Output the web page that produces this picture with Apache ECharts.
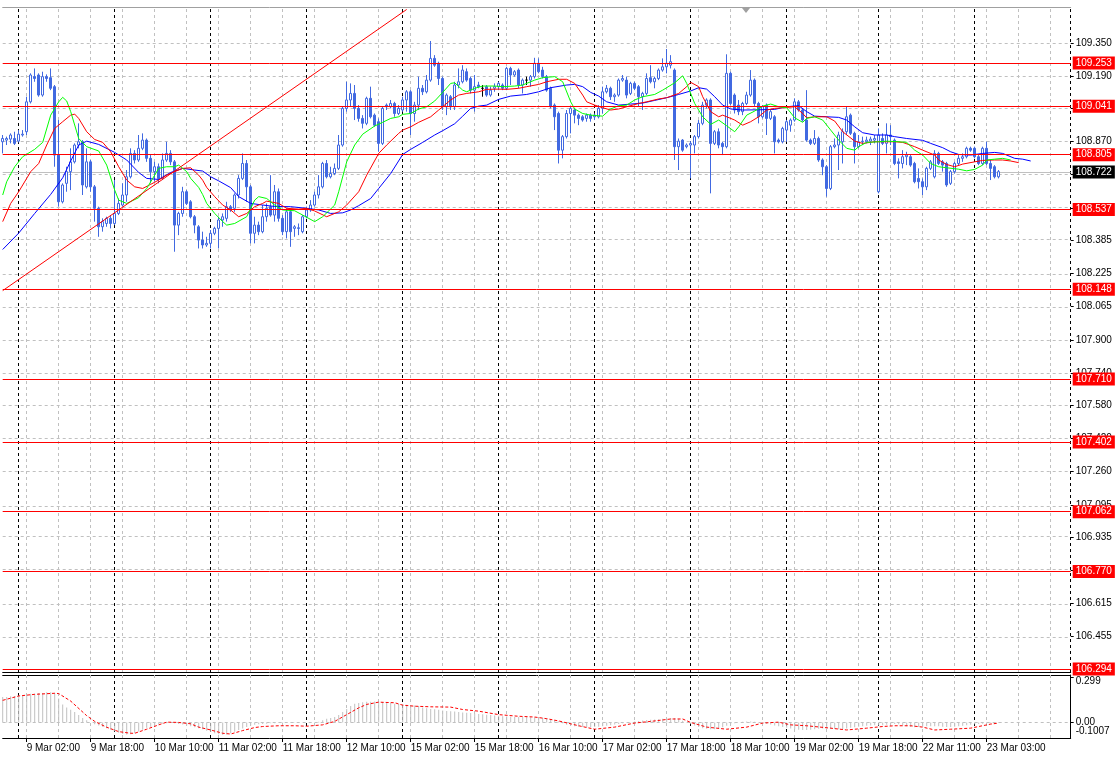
<!DOCTYPE html>
<html><head><meta charset="utf-8">
<script src="https://cdn.jsdelivr.net/npm/echarts@6/dist/echarts.min.js"></script>
<style>html,body{margin:0;padding:0;background:#fff}#c{width:1120px;height:758px}</style>
</head><body><div id="c"></div>
<script>
// trading sessions: [day, first hour, number of hourly bars]
const sessions = [['8 Mar',20,4],['9 Mar',0,24],['10 Mar',0,24],['11 Mar',0,24],['12 Mar',0,24],
  ['15 Mar',0,24],['16 Mar',0,24],['17 Mar',0,24],['18 Mar',0,24],['19 Mar',0,23],
  ['22 Mar',0,24],['23 Mar',0,24],['24 Mar',0,1]];

// hourly bars: [open, high, low, close]
const bars = [
[108.868,108.901,108.811,108.884],[108.876,108.893,108.852,108.884],[108.881,108.909,108.860,108.901],[108.884,108.917,108.852,108.860],
[108.871,108.925,108.865,108.905],[108.901,108.925,108.893,108.905],[108.917,109.088,108.901,109.063],[109.063,109.202,109.055,109.194],
[109.186,109.226,109.161,109.177],[109.194,109.202,109.088,109.096],[109.096,109.210,109.088,109.186],[109.186,109.197,109.161,109.177],
[109.181,109.226,109.120,109.129],[109.137,109.145,108.746,108.803],[108.803,108.974,108.551,108.575],[108.575,108.665,108.567,108.657],
[108.665,108.746,108.624,108.722],[108.722,108.836,108.632,108.770],[108.770,108.860,108.762,108.852],[108.852,108.958,108.836,108.868],
[108.868,108.876,108.608,108.657],[108.648,108.836,108.640,108.770],[108.770,108.779,108.624,108.648],[108.648,108.657,108.478,108.543],
[108.543,108.551,108.404,108.453],[108.453,108.494,108.429,108.478],[108.469,108.502,108.453,108.494],[108.494,108.510,108.445,108.469],
[108.469,108.681,108.461,108.518],[108.518,108.591,108.510,108.567],[108.559,108.665,108.551,108.608],[108.608,108.730,108.575,108.697],
[108.697,108.836,108.689,108.811],[108.811,108.827,108.762,108.779],[108.779,108.901,108.770,108.836],[108.836,108.909,108.827,108.876],
[108.876,108.884,108.770,108.787],[108.787,108.803,108.665,108.722],[108.722,108.770,108.673,108.746],[108.746,108.762,108.665,108.689],
[108.689,108.811,108.681,108.779],[108.779,108.868,108.770,108.811],[108.811,108.827,108.754,108.770],[108.770,108.779,108.331,108.461],
[108.461,108.526,108.412,108.518],[108.518,108.648,108.502,108.624],[108.624,108.632,108.559,108.567],[108.575,108.583,108.494,108.502],
[108.502,108.510,108.421,108.461],[108.453,108.461,108.347,108.388],[108.388,108.429,108.347,108.364],[108.364,108.404,108.355,108.372],
[108.372,108.437,108.347,108.421],[108.421,108.453,108.412,108.445],[108.445,108.502,108.347,108.486],[108.486,108.518,108.453,108.502],
[108.494,108.575,108.478,108.551],[108.551,108.559,108.526,108.535],[108.543,108.616,108.526,108.608],[108.608,108.705,108.591,108.689],
[108.689,108.811,108.681,108.762],[108.762,108.779,108.575,108.648],[108.648,108.657,108.372,108.421],[108.421,108.502,108.372,108.461],
[108.461,108.478,108.412,108.429],[108.429,108.559,108.421,108.502],[108.502,108.567,108.478,108.543],[108.551,108.705,108.502,108.510],
[108.510,108.657,108.478,108.624],[108.624,108.640,108.478,108.494],[108.494,108.510,108.412,108.429],[108.429,108.543,108.396,108.526],
[108.526,108.535,108.355,108.429],[108.445,108.461,108.404,108.453],[108.448,108.469,108.412,108.445],[108.429,108.510,108.421,108.502],
[108.502,108.551,108.494,108.535],[108.535,108.583,108.526,108.559],[108.559,108.624,108.551,108.608],[108.608,108.705,108.591,108.648],
[108.648,108.770,108.640,108.762],[108.762,108.779,108.689,108.697],[108.697,108.746,108.689,108.713],[108.713,108.762,108.705,108.738],
[108.738,108.901,108.730,108.852],[108.852,109.039,108.844,109.031],[109.031,109.161,109.015,109.072],[109.072,109.153,109.039,109.104],
[109.104,109.145,108.974,109.031],[109.031,109.047,108.966,108.982],[108.982,108.998,108.933,108.958],[108.958,109.088,108.949,109.080],
[109.080,109.137,108.982,108.990],[108.998,109.006,108.941,108.949],[108.966,108.982,108.819,108.860],[108.860,109.039,108.852,109.031],
[109.047,109.055,109.023,109.039],[109.039,109.072,109.031,109.055],[109.055,109.063,108.990,109.006],[109.006,109.047,108.998,109.031],
[109.023,109.088,109.015,109.072],[109.072,109.120,109.015,109.112],[109.112,109.120,108.901,109.006],[109.006,109.063,108.966,109.047],
[109.047,109.186,109.023,109.129],[109.129,109.145,109.096,109.112],[109.112,109.194,109.104,109.169],[109.169,109.360,109.161,109.275],
[109.275,109.291,109.234,109.242],[109.251,109.259,109.145,109.177],[109.177,109.186,109.023,109.039],[109.039,109.104,108.998,109.096],
[109.088,109.096,109.023,109.039],[109.039,109.161,109.023,109.145],[109.145,109.226,109.129,109.161],[109.161,109.242,109.153,109.218],
[109.210,109.226,109.161,109.169],[109.177,109.186,109.104,109.120],[109.120,109.194,109.015,109.137],[109.145,109.161,109.129,109.137],
[109.129,109.145,109.088,109.129],[109.137,109.145,109.088,109.096],[109.096,109.137,109.088,109.120],[109.129,109.153,109.112,109.137],
[109.137,109.161,109.120,109.153],[109.145,109.153,109.120,109.129],[109.129,109.234,109.120,109.226],[109.226,109.234,109.145,109.194],
[109.194,109.218,109.186,109.210],[109.218,109.226,109.129,109.145],[109.145,109.177,109.104,109.169],[109.169,109.186,109.145,109.169],
[109.169,109.194,109.137,109.186],[109.186,109.278,109.177,109.251],[109.251,109.275,109.202,109.210],[109.218,109.234,109.177,109.186],
[109.186,109.194,109.112,109.120],[109.129,109.137,109.031,109.039],[109.047,109.055,108.925,108.990],[109.006,109.015,108.762,108.827],
[108.827,108.901,108.787,108.893],[108.893,109.023,108.884,109.006],[109.006,109.039,108.909,109.031],[109.023,109.031,108.958,108.998],
[108.998,109.006,108.949,108.982],[108.990,108.998,108.966,108.974],[108.982,109.006,108.966,108.998],[108.998,109.006,108.966,108.982],
[108.990,109.006,108.974,108.998],[108.990,109.047,108.982,109.031],[109.031,109.137,109.006,109.112],[109.112,109.145,109.104,109.129],
[109.129,109.137,109.072,109.088],[109.088,109.104,109.063,109.096],[109.096,109.177,109.088,109.169],[109.169,109.194,109.161,109.177],
[109.169,109.186,109.080,109.096],[109.104,109.161,109.096,109.153],[109.153,109.161,109.120,109.129],[109.137,109.145,109.039,109.088],
[109.088,109.112,109.023,109.104],[109.104,109.202,109.096,109.177],[109.181,109.242,109.153,109.161],[109.161,109.186,109.129,109.177],
[109.177,109.226,109.169,109.218],[109.218,109.275,109.210,109.234],[109.234,109.321,109.202,109.251],[109.242,109.291,109.226,109.259],
[109.218,109.226,108.779,108.844],[108.844,108.884,108.730,108.871],[108.876,108.881,108.819,108.827],[108.844,108.860,108.836,108.852],
[108.852,108.871,108.689,108.860],[108.852,108.901,108.811,108.893],[108.893,108.974,108.884,108.958],[108.958,109.063,108.949,109.047],
[109.047,109.080,109.031,109.072],[109.072,109.080,108.616,108.860],[108.860,108.925,108.852,108.917],[108.917,108.933,108.836,108.852],
[108.860,108.868,108.803,108.844],[108.844,109.295,108.836,109.202],[109.202,109.210,109.047,109.055],[109.096,109.104,109.006,109.023],
[109.047,109.072,108.998,109.015],[109.015,109.063,108.998,109.055],[109.055,109.112,109.047,109.096],[109.096,109.218,109.088,109.169],
[109.169,109.177,109.039,109.055],[109.055,109.063,108.958,108.990],[108.990,109.047,108.982,109.039],[109.047,109.055,108.901,108.982],
[108.982,109.023,108.974,109.015],[108.990,108.998,108.811,108.868],[108.876,108.884,108.860,108.868],[108.868,108.941,108.860,108.933],
[108.925,108.974,108.868,108.966],[108.949,108.982,108.917,108.974],[108.974,109.080,108.966,109.063],[109.063,109.072,109.015,109.023],
[109.023,109.031,108.966,108.974],[108.974,109.120,108.868,108.876],[108.876,108.884,108.852,108.860],[108.860,108.925,108.852,108.884],
[108.884,108.893,108.770,108.779],[108.779,108.787,108.705,108.746],[108.746,108.754,108.600,108.640],[108.640,108.852,108.632,108.844],
[108.844,108.884,108.836,108.852],[108.852,108.917,108.730,108.901],[108.868,108.933,108.762,108.917],[108.917,109.039,108.901,108.990],
[108.998,109.006,108.901,108.909],[108.909,108.917,108.762,108.844],[108.844,108.901,108.836,108.868],[108.868,108.893,108.852,108.871],
[108.868,108.893,108.860,108.876],[108.871,108.893,108.852,108.881],[108.876,108.901,108.860,108.884],[108.624,108.933,108.616,108.901],
[108.884,108.909,108.852,108.860],[108.860,108.958,108.811,108.901],[108.901,108.949,108.852,108.893],[108.876,108.884,108.754,108.762],
[108.770,108.787,108.689,108.762],[108.762,108.827,108.738,108.795],[108.795,108.819,108.754,108.803],[108.795,108.803,108.746,108.754],
[108.762,108.770,108.665,108.673],[108.689,108.738,108.640,108.673],[108.673,108.689,108.608,108.648],[108.648,108.746,108.632,108.738],
[108.738,108.779,108.730,108.770],[108.697,108.827,108.689,108.811],[108.811,108.819,108.754,108.762],[108.770,108.779,108.722,108.754],
[108.762,108.770,108.648,108.657],[108.665,108.730,108.657,108.722],[108.722,108.770,108.713,108.762],[108.762,108.803,108.754,108.787],
[108.787,108.811,108.770,108.795],[108.795,108.844,108.787,108.836],[108.836,108.844,108.819,108.827],[108.836,108.844,108.787,108.795],
[108.795,108.803,108.754,108.762],[108.762,108.844,108.754,108.836],[108.836,108.868,108.754,108.762],[108.762,108.779,108.681,108.738],
[108.746,108.754,108.689,108.697],[108.697,108.730,108.689,108.722]
];

// Alligator lines: [bar index, value]
const jaw = [[0,108.342],[4,108.422],[8,108.518],[12,108.611],[15,108.692],[17,108.774],[19,108.852],[21,108.871],[24,108.855],[28,108.816],[31,108.779],[34,108.718],[36,108.689],[39,108.684],[42,108.718],[45,108.738],[48,108.730],[50,108.725],[52,108.697],[54,108.677],[57,108.644],[59,108.600],[62,108.567],[65,108.559],[68,108.552],[72,108.551],[76,108.543],[79,108.535],[82,108.518],[85,108.521],[87,108.535],[89,108.556],[92,108.591],[94,108.640],[97,108.713],[100,108.806],[102,108.831],[105,108.865],[108,108.901],[110,108.922],[113,108.956],[115,108.993],[117,109.031],[119,109.042],[121,109.047],[124,109.075],[127,109.091],[131,109.099],[134,109.112],[137,109.132],[141,109.145],[143,109.148],[145,109.137],[147,109.109],[149,109.091],[151,109.063],[154,109.047],[157,109.052],[160,109.057],[163,109.070],[166,109.083],[169,109.099],[172,109.116],[174,109.132],[176,109.125],[178,109.088],[180,109.047],[182,109.028],[185,109.023],[189,109.024],[193,109.026],[196,109.039],[199,109.044],[201,109.015],[203,108.993],[206,108.990],[209,108.987],[211,108.974],[213,108.941],[215,108.912],[218,108.901],[221,108.901],[223,108.893],[226,108.884],[230,108.875],[232,108.860],[235,108.839],[237,108.819],[239,108.806],[242,108.803],[245,108.811],[248,108.816],[250,108.811],[253,108.787],[255,108.783],[257,108.774]];
const teeth = [[0,108.478],[2,108.567],[4,108.624],[7,108.722],[9,108.762],[11,108.852],[13,108.933],[15,108.966],[17,108.998],[18,109.003],[19,108.982],[21,108.917],[23,108.879],[25,108.865],[27,108.819],[29,108.746],[31,108.681],[33,108.648],[35,108.640],[37,108.660],[39,108.681],[41,108.705],[43,108.722],[45,108.738],[47,108.741],[49,108.705],[50,108.680],[51,108.645],[53,108.600],[55,108.559],[57,108.535],[59,108.502],[61,108.518],[63,108.551],[65,108.567],[66,108.578],[69,108.567],[71,108.543],[74,108.539],[76,108.543],[78,108.530],[81,108.502],[84,108.526],[86,108.559],[89,108.624],[91,108.705],[94,108.811],[96,108.852],[99,108.909],[100,108.925],[102,108.941],[104,108.963],[107,108.990],[109,109.023],[112,109.072],[114,109.096],[116,109.104],[119,109.112],[121,109.124],[124,109.125],[126,109.124],[129,109.129],[131,109.137],[134,109.148],[136,109.161],[139,109.173],[141,109.173],[143,109.153],[145,109.096],[146,109.063],[148,109.047],[150,109.034],[152,109.023],[154,109.028],[156,109.039],[159,109.055],[161,109.063],[164,109.077],[166,109.083],[169,109.104],[171,109.137],[172,109.158],[174,109.137],[175,109.088],[177,109.015],[179,108.990],[180,108.998],[183,108.974],[185,108.949],[187,108.966],[189,108.990],[191,109.023],[193,109.031],[195,109.034],[198,109.039],[200,109.006],[201,108.985],[203,108.990],[206,108.990],[208,108.969],[210,108.917],[213,108.871],[215,108.860],[218,108.868],[220,108.868],[223,108.868],[225,108.865],[228,108.844],[230,108.827],[233,108.803],[234,108.779],[236,108.757],[238,108.746],[240,108.759],[243,108.770],[245,108.777],[248,108.779],[250,108.779],[252,108.774],[254,108.766]];
const lips = [[0,108.608],[1,108.673],[3,108.746],[5,108.795],[8,108.831],[10,108.865],[12,108.998],[14,109.063],[15,109.085],[16,109.067],[17,109.015],[19,108.884],[21,108.844],[24,108.823],[26,108.754],[28,108.632],[29,108.583],[31,108.567],[34,108.595],[36,108.640],[38,108.705],[39,108.738],[41,108.746],[43,108.746],[44,108.754],[46,108.722],[47,108.689],[49,108.645],[50,108.610],[51,108.567],[53,108.518],[55,108.478],[56,108.461],[58,108.469],[61,108.502],[63,108.583],[64,108.600],[66,108.591],[68,108.559],[70,108.535],[73,108.531],[75,108.510],[78,108.478],[80,108.502],[83,108.559],[84,108.624],[86,108.770],[88,108.852],[90,108.905],[93,108.945],[95,108.963],[97,108.982],[99,108.990],[100,109.002],[102,109.006],[104,109.028],[106,109.039],[108,109.067],[110,109.109],[112,109.153],[113,109.156],[115,109.120],[116,109.112],[118,109.129],[120,109.140],[123,109.140],[125,109.137],[128,109.140],[130,109.145],[133,109.169],[135,109.181],[138,109.186],[140,109.161],[142,109.063],[143,109.028],[145,109.006],[147,108.998],[150,108.993],[152,109.028],[154,109.044],[156,109.047],[158,109.072],[160,109.088],[163,109.099],[165,109.120],[168,109.156],[170,109.190],[171,109.153],[173,109.055],[175,108.990],[177,108.953],[179,108.974],[181,108.946],[183,108.917],[184,108.941],[186,108.998],[188,109.018],[190,109.042],[192,109.052],[194,109.039],[196,109.034],[198,108.985],[200,108.963],[201,108.982],[203,108.990],[205,108.974],[207,108.925],[209,108.876],[211,108.836],[213,108.827],[214,108.844],[216,108.865],[219,108.868],[221,108.871],[224,108.868],[226,108.865],[228,108.827],[230,108.803],[232,108.762],[234,108.746],[236,108.741],[239,108.734],[241,108.726],[243,108.733],[245,108.754],[246,108.779],[248,108.783],[250,108.787],[252,108.779]];

// MACD
const macdHist = [
0.17,0.17,0.175,0.175,0.18,0.18,0.185,0.19,0.19,0.195,0.195,0.2,0.2,0.195,
0.16,0.12,0.10,0.085,0.07,0.05,0.03,0.015,0.0,
-0.012,-0.02,-0.028,-0.038,-0.048,-0.058,-0.068,-0.076,-0.08,-0.078,-0.072,-0.06,-0.048,-0.036,-0.028,-0.018,-0.012,-0.008,-0.005,-0.004,-0.006,-0.01,-0.014,-0.02,-0.026,-0.032,-0.038,-0.046,-0.055,-0.064,-0.072,-0.078,-0.082,-0.08,-0.072,-0.062,-0.05,-0.04,-0.03,-0.02,-0.015,-0.012,-0.01,-0.008,
-0.006,-0.005,-0.004,-0.004,-0.003,-0.003,-0.002,-0.002,-0.001,0.0,0.0,0.002,
0.004,0.015,0.025,0.03,0.036,0.05,0.07,0.09,0.11,0.125,0.13,0.135,0.137,0.138,0.14,0.14,0.136,0.132,0.13,0.125,0.122,0.12,0.118,0.115,0.112,0.11,
0.1,0.095,0.09,0.088,0.085,0.08,0.076,0.074,
0.072,0.07,0.066,0.064,0.062,0.06,0.057,0.054,0.052,0.05,0.047,0.044,0.042,0.04,0.038,0.037,0.036,0.036,0.036,0.035,0.035,0.034,0.032,
0.028,0.022,0.016,0.008,-0.005,
-0.015,-0.02,-0.025,-0.028,-0.03,-0.032,-0.032,-0.03,
-0.028,-0.025,-0.022,-0.018,-0.014,-0.01,-0.006,-0.002,
0.002,0.006,0.01,0.013,0.016,0.018,0.02,0.022,0.025,0.028,0.03,0.03,0.025,0.012,
0.0,-0.01,-0.02,-0.03,-0.038,-0.042,-0.045,-0.045,-0.04,-0.032,-0.022,-0.012,
-0.005,0.0,0.004,0.006,0.006,0.005,0.002,-0.002,-0.008,-0.014,-0.02,
-0.025,-0.03,-0.035,-0.04,-0.045,-0.048,-0.05,-0.05,-0.048,-0.045,-0.042,-0.04,-0.04,-0.042,-0.044,-0.045,-0.044,-0.04,-0.036,-0.032,-0.028,-0.025,-0.022,
-0.02,-0.018,-0.02,-0.018,-0.015,-0.012,-0.01,-0.012,-0.018,-0.025,-0.03,-0.032,-0.03,-0.028,
-0.026,-0.025,-0.025,-0.026,-0.028,-0.03,-0.03,-0.028,-0.025,-0.022,-0.018,-0.015,
-0.012,-0.01,-0.008,-0.006,-0.005,-0.004,-0.004
];
const macdSignal = [[0,0.147],[4,0.176],[8,0.187],[13,0.194],[14,0.192],[17,0.142],[21,0.045],[23,0.007],[26,-0.032],[29,-0.061],[32,-0.072],[33,-0.072],[36,-0.045],[39,-0.016],[41,0.002],[44,0.0],[47,-0.009],[49,-0.031],[52,-0.05],[55,-0.072],[57,-0.077],[60,-0.054],[63,-0.034],[65,-0.027],[69,-0.022],[73,-0.022],[76,-0.025],[80,-0.016],[83,0.007],[86,0.052],[89,0.097],[91,0.12],[94,0.135],[98,0.131],[100,0.115],[103,0.108],[107,0.104],[112,0.102],[115,0.086],[119,0.075],[124,0.052],[129,0.041],[133,0.036],[136,0.025],[139,0.01],[144,-0.022],[148,-0.045],[153,-0.031],[158,-0.004],[162,0.007],[167,0.023],[170,0.023],[172,0.0],[176,-0.031],[181,-0.045],[186,-0.031],[190,-0.004],[194,0.002],[197,-0.016],[201,-0.022],[207,-0.038],[211,-0.05],[216,-0.038],[220,-0.027],[223,-0.022],[227,-0.022],[230,-0.031],[233,-0.05],[237,-0.045],[242,-0.038],[244,-0.027],[247,-0.011],[249,-0.004]];

// axis ticks and levels
const priceTicks = [109.350,109.190,109.030,108.870,108.710,108.545,108.385,108.225,108.065,107.900,107.740,107.580,107.420,107.260,107.095,106.935,106.775,106.615,106.455];
const levels = [109.253,109.041,108.805,108.537,108.148,107.710,107.402,107.062,106.770,106.294];
const bidPrice = 108.722;
const trendLine = [[0,108.141],[101,109.514]];
const macdTicks = [0.299, 0, -0.1007];
const macdTickLabels = ['0.299','0.00','-0.1007'];
const firstLabelName = '9 Mar 02:00';

// ---- build ----
const categories = [];
const dayStarts = [];
sessions.forEach(([day, h0, n]) => {
  if (h0 === 0) dayStarts.push(categories.length);
  for (let h = h0; h < h0 + n; h++) categories.push(day + ' ' + String(h).padStart(2, '0') + ':00');
});
const N = categories.length;
const STEP = 4, LEFT = 2.7;
const plotW = (N - 1) * STEP;
const firstLabel = categories.indexOf(firstLabelName);
const isLabel = i => i >= firstLabel && i < bars.length && (i - firstLabel) % 16 === 0;
const gridCols = [];
for (let i = firstLabel % 8; i < N; i += 8) gridCols.push(i);

const FONT = '"Liberation Sans", Arial, sans-serif';
const grayDash = {color: '#c0c0c0', type: [3, 3], width: 1};
const blackDash = {color: '#000', type: [3, 3], width: 1};
const redSolid = {color: '#ff0000', type: 'solid', width: 1, opacity: 1};
const macdLabel = v => {
  const k = macdTicks.findIndex(t => Math.abs(t - v) < 1e-9);
  const s = k >= 0 ? macdTickLabels[k] : String(v);
  return k === 0 ? '{t|' + s + '}' : (k === 2 ? '{b|' + s + '}' : s);
};
const macdRich = {t: {padding: [8, 0, 0, 0], fontSize: 10, color: '#000'}, b: {padding: [0, 0, 12, 0], fontSize: 10, color: '#000'}};

const vLines = [
  ...gridCols.map(i => ({xAxis: i, lineStyle: grayDash})),
  ...dayStarts.map(i => ({xAxis: i, lineStyle: blackDash}))
];

const chart = echarts.init(document.getElementById('c'), null, {renderer: 'canvas'});
chart.setOption({
  animation: false,
  backgroundColor: '#fff',
  textStyle: {fontFamily: FONT},
  grid: [
    {left: LEFT, top: 7, width: plotW, height: 665},
    {left: LEFT, top: 675, width: plotW, height: 63}
  ],
  xAxis: [
    {type: 'category', gridIndex: 0, data: categories, boundaryGap: false, position: 'bottom',
      axisLine: {show: true, onZero: false, lineStyle: {color: '#000'}}, axisTick: {show: false}, axisLabel: {show: false}, splitLine: {show: false}},
    {type: 'category', gridIndex: 0, data: categories, boundaryGap: false, position: 'top',
      axisLine: {show: true, onZero: false, lineStyle: {color: '#a0a0a0'}}, axisTick: {show: false}, axisLabel: {show: false}, splitLine: {show: false}},
    {type: 'category', gridIndex: 1, data: categories, boundaryGap: false, position: 'bottom',
      axisLine: {show: true, onZero: false, lineStyle: {color: '#000'}},
      axisTick: {show: true, interval: (i) => isLabel(i), length: 4, lineStyle: {color: '#000'}},
      axisLabel: {show: true, interval: (i) => isLabel(i), align: 'left', margin: 5, fontSize: 10, color: '#000', fontFamily: FONT},
      splitLine: {show: false}},
    {type: 'category', gridIndex: 1, data: categories, boundaryGap: false, position: 'top',
      axisLine: {show: true, onZero: false, lineStyle: {color: '#000'}}, axisTick: {show: false}, axisLabel: {show: false}, splitLine: {show: false}}
  ],
  yAxis: [
    {type: 'value', gridIndex: 0, position: 'right', min: 106.279, max: 109.526,
      splitLine: {show: false}, axisLine: {show: false},
      axisTick: {show: true, length: 3, lineStyle: {color: '#000'}, customValues: priceTicks},
      axisLabel: {show: true, customValues: priceTicks, formatter: v => Number(v).toFixed(3), color: '#000', fontSize: 10, margin: 5, fontFamily: FONT}},
    {type: 'value', gridIndex: 1, position: 'right', min: -0.1034, max: 0.3155,
      splitLine: {show: false}, axisLine: {show: true, lineStyle: {color: '#000'}},
      axisTick: {show: true, length: 3, lineStyle: {color: '#000'}, customValues: macdTicks.slice(0, 2)},
      axisLabel: {show: true, customValues: macdTicks.slice(0, 2), color: '#000', fontSize: 10, margin: 5, fontFamily: FONT,
        formatter: macdLabel, rich: macdRich}},
    {type: 'value', gridIndex: 1, position: 'right', offset: 0, min: -0.1034, max: 0.3155,
      splitLine: {show: false}, axisLine: {show: false},
      axisTick: {show: false, customValues: macdTicks.slice(2)},
      axisLabel: {show: true, customValues: macdTicks.slice(2), color: '#000', fontSize: 10, margin: 5, fontFamily: FONT,
        showMinLabel: true, formatter: macdLabel, rich: macdRich}}
  ],
  graphic: [{type: 'polygon', shape: {points: [[742, 8], [750, 8], [746, 13]]}, style: {fill: '#a0a0a0'}, silent: true}],
  series: [
    {type: 'line', name: 'gridMain', xAxisIndex: 0, yAxisIndex: 0, data: [], silent: true,
      markLine: {z: 1, silent: true, symbol: ['none', 'none'], animation: false, label: {show: false},
        data: [
          ...priceTicks.map(v => ({yAxis: v, lineStyle: grayDash})),
          ...vLines,
          {yAxis: bidPrice, lineStyle: {color: '#c0c0c0', type: 'solid', width: 1},
            label: {show: true, position: 'end', distance: 2, formatter: bidPrice.toFixed(3), backgroundColor: '#000', color: '#fff', padding: [2, 3, 1, 3], fontSize: 10, fontFamily: FONT}}
        ]}},
    {type: 'candlestick', name: 'USDJPY', xAxisIndex: 0, yAxisIndex: 0, barWidth: 2,
      data: bars.map(([o, h, l, c]) => [o, c, l, h]),
      itemStyle: {color: '#ffffff', color0: '#4169e1', borderColor: '#4169e1', borderColor0: '#4169e1', borderColorDoji: '#000', borderWidth: 1}},
    {type: 'line', name: 'Jaw', xAxisIndex: 0, yAxisIndex: 0, data: jaw, symbol: 'none', z: 3, lineStyle: {color: '#0000ff', width: 1}},
    {type: 'line', name: 'Teeth', xAxisIndex: 0, yAxisIndex: 0, data: teeth, symbol: 'none', z: 3, lineStyle: {color: '#ff0000', width: 1}},
    {type: 'line', name: 'Lips', xAxisIndex: 0, yAxisIndex: 0, data: lips, symbol: 'none', z: 3, lineStyle: {color: '#00ff00', width: 1}},
    {type: 'line', name: 'levels', xAxisIndex: 0, yAxisIndex: 0, data: [], silent: true, color: '#ff0000',
      markLine: {z: 5, silent: true, symbol: ['none', 'none'], animation: false, precision: 3, label: {show: false},
        lineStyle: redSolid,
        data: [
          ...levels.map(v => ({yAxis: v, lineStyle: redSolid,
            label: {show: true, position: 'end', distance: 2, formatter: v.toFixed(3), backgroundColor: '#ff0000', color: '#fff', padding: [2, 3, 1, 3], fontSize: 10, fontFamily: FONT}})),
          [{coord: trendLine[0], lineStyle: redSolid, label: {show: false}},
           {coord: trendLine[1], lineStyle: redSolid, label: {show: false}}]
        ]}},
    {type: 'line', name: 'gridSub', xAxisIndex: 2, yAxisIndex: 1, data: [], silent: true,
      markLine: {z: 1, silent: true, symbol: ['none', 'none'], animation: false, label: {show: false},
        data: [...vLines, {yAxis: 0, lineStyle: grayDash}]}},
    {type: 'bar', name: 'MACD', xAxisIndex: 2, yAxisIndex: 1, data: macdHist, barWidth: 1, silent: true,
      itemStyle: {color: '#c0c0c0'}},
    {type: 'line', name: 'Signal', xAxisIndex: 2, yAxisIndex: 1, data: macdSignal, symbol: 'none', z: 3,
      lineStyle: {color: '#ff0000', width: 1, type: [3, 2]}}
  ]
});
</script>
</body></html>
